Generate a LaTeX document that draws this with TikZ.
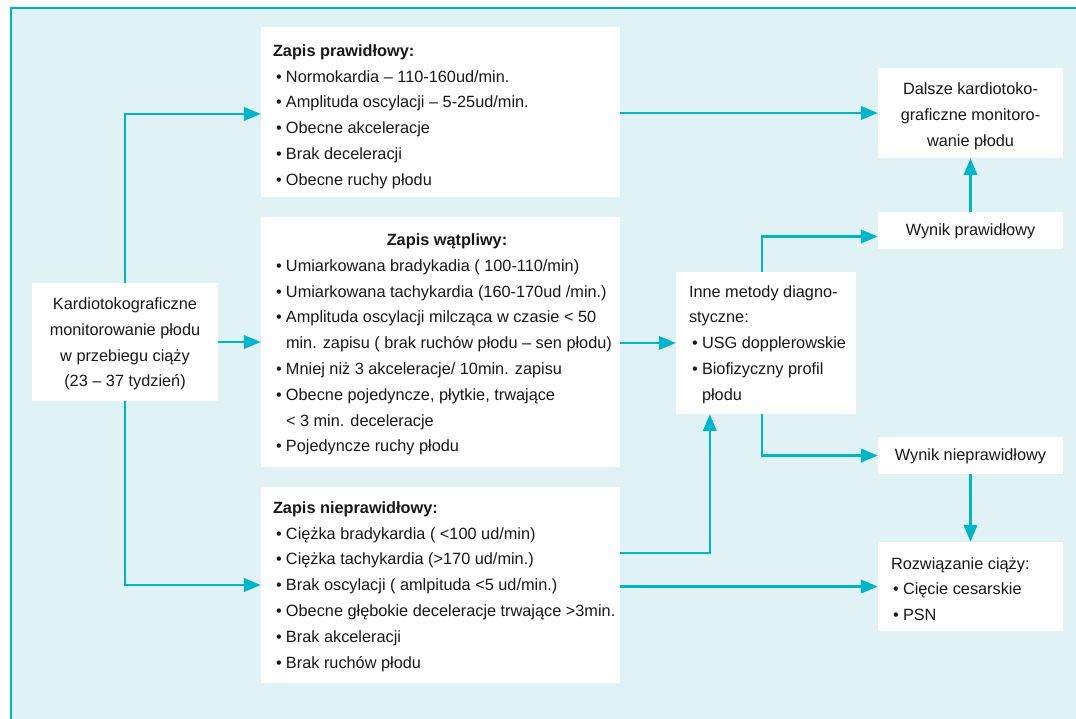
\documentclass[tikz,border=0pt]{standalone}
\usepackage{fontspec}
\setmainfont{Liberation Sans}
\usetikzlibrary{arrows.meta,calc}
\definecolor{ctgbg}{HTML}{E1F2F6}
\definecolor{ctgline}{HTML}{00B5C9}
\definecolor{ctgtext}{HTML}{1A1718}
\newcommand{\bl}{\makebox[10pt][l]{•}}
\begin{document}
\begin{tikzpicture}[x=1pt,y=-1pt,
  box/.style={fill=white,draw=none,inner sep=0pt},
  txt/.style={inner sep=0pt,text=ctgtext,font=\fontsize{16.3}{25.8}\selectfont},
  conn/.style={draw=ctgline,line width=2.4pt,-{Triangle[length=17pt,width=13.5pt]}},
  frameline/.style={draw=ctgline,line width=2.2pt}]
\useasboundingbox (0,0) rectangle (1076,719);
% panel background and frame
\fill[white] (0,0) rectangle (1076,719);
\fill[ctgbg] (11,8) rectangle (1076,719);
\draw[frameline] (11,719) -- (11,8) -- (1076,8);

% boxes
\node[box,minimum width=186pt,minimum height=118pt] (L)  at (125,342) {};
\node[box,minimum width=359pt,minimum height=170pt] (P1) at (440.5,112) {};
\node[box,minimum width=359pt,minimum height=250pt] (P2) at (440.5,342) {};
\node[box,minimum width=359pt,minimum height=196pt] (P3) at (440.5,585) {};
\node[box,minimum width=180pt,minimum height=142pt] (I)  at (766,343) {};
\node[box,minimum width=185pt,minimum height=90pt]  (D)  at (970.5,113) {};
\node[box,minimum width=185pt,minimum height=37pt]  (WP) at (970.5,230.5) {};
\node[box,minimum width=185pt,minimum height=37pt]  (WN) at (970.5,455.5) {};
\node[box,minimum width=185pt,minimum height=89pt]  (R)  at (970.5,586.5) {};

% texts
\node[txt,align=center] (Lt) at ($(L.center)+(0,2)$)
  {Kardiotokograficzne\\monitorowanie płodu\\w przebiegu ciąży\\(23 – 37 tydzień)};
\node[txt,anchor=west,align=left] (P1t) at ($(P1.west)+(12,4.5)$)
  {\textbf{Zapis prawidłowy:}\\
   \hspace*{3pt}\bl Normokardia – 110-160ud/min.\\
   \hspace*{3pt}\bl Amplituda oscylacji – 5-25ud/min.\\
   \hspace*{3pt}\bl Obecne akceleracje\\
   \hspace*{3pt}\bl Brak deceleracji\\
   \hspace*{3pt}\bl Obecne ruchy płodu};
\node[txt,anchor=west,align=left] (P2t) at ($(P2.west)+(15,2.5)$)
  {\makebox[342pt]{\textbf{Zapis wątpliwy:}}\\
   \bl Umiarkowana bradykadia ( 100-110/min)\\
   \bl Umiarkowana tachykardia (160-170ud /min.)\\
   \bl Amplituda oscylacji milcząca w czasie < 50\\
   \hspace*{10pt}min. zapisu ( brak ruchów płodu – sen płodu)\\
   \bl Mniej niż 3 akceleracje/ 10min. zapisu\\
   \bl Obecne pojedyncze, płytkie, trwające\\
   \hspace*{10pt}< 3 min. deceleracje\\
   \bl Pojedyncze ruchy płodu};
\node[txt,anchor=west,align=left] (P3t) at ($(P3.west)+(12,1.5)$)
  {\textbf{Zapis nieprawidłowy:}\\
   \hspace*{3pt}\bl Ciężka bradykardia ( <100 ud/min)\\
   \hspace*{3pt}\bl Ciężka tachykardia (>170 ud/min.)\\
   \hspace*{3pt}\bl Brak oscylacji ( amlpituda <5 ud/min.)\\
   \hspace*{3pt}\bl Obecne głębokie deceleracje trwające >3min.\\
   \hspace*{3pt}\bl Brak akceleracji\\
   \hspace*{3pt}\bl Brak ruchów płodu};
\node[txt,anchor=west,align=left] (It) at ($(I.west)+(13,1.5)$)
  {Inne metody diagno-\\styczne:\\
   \hspace*{3pt}\bl USG dopplerowskie\\
   \hspace*{3pt}\bl Biofizyczny profil\\
   \hspace*{13pt}płodu};
\node[txt,align=center] (Dt) at ($(D.center)+(0,3)$)
  {Dalsze kardiotoko-\\graficzne monitoro-\\wanie płodu};
\node[txt] (WPt) at ($(WP.center)+(0,1)$) {Wynik prawidłowy};
\node[txt] (WNt) at ($(WN.center)+(0,1)$) {Wynik nieprawidłowy};
\node[txt,anchor=west,align=left] (Rt) at ($(R.west)+(13,2.5)$)
  {Rozwiązanie ciąży:\\
   \hspace*{2pt}\bl Cięcie cesarskie\\
   \hspace*{2pt}\bl PSN};

% connectors
\draw[conn] (L.north) |- ($(P1.west)+(0,2)$);
\draw[conn] (L.east) -- (P2.west);
\draw[conn] (L.south) |- (P3.west);
\draw[conn] (P1.east |- D.west) -- (D.west);
\draw[conn] (P2.east |- I.west) -- (I.west);
\draw[conn] ($(P3.east)+(0,-32)$) -| ($(I.south west)+(34,0)$);
\draw[conn] (P3.east |- R.west) -- (R.west);
\draw[conn] ($(I.north west)+(86,0)$) |- ($(WP.west)+(0,6)$);
\draw[conn] ($(I.south west)+(86,0)$) |- (WN.west);
\draw[conn] (WP.north) -- (D.south);
\draw[conn] (WN.south) -- (R.north);
\end{tikzpicture}
\end{document}
